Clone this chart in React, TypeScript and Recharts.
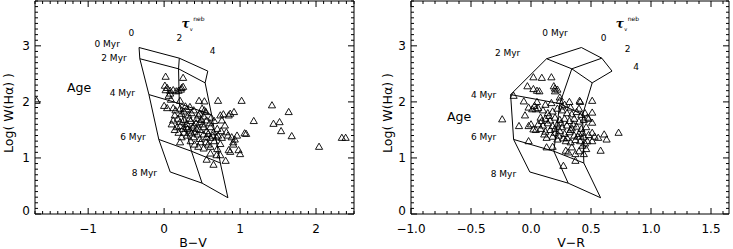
import { Scatter, ScatterChart, XAxis, YAxis } from "recharts";

const FONT = "'DejaVu Sans', sans-serif";

// model grid, rows = age (0, 2, 4, 6, 8 Myr), columns = tau_V^neb (0, 2, 4)
const ageNames = ["0 Myr", "2 Myr", "4 Myr", "6 Myr", "8 Myr"];
const tauNames = ["0", "2", "4"];
const modelLogW = [
  [2.97, 2.78, 2.55],
  [2.77, 2.59, 2.34],
  [2.13, 1.97, 1.77],
  [1.33, 1.12, 0.91],
  [0.75, 0.55, 0.29],
];
const modelBV = [
  [-0.33, 0.2, 0.575],
  [-0.32, 0.19, 0.54],
  [-0.2, 0.2, 0.625],
  [-0.07, 0.36, 0.74],
  [0.08, 0.5, 0.84],
];
const modelVR = [
  [0.42, 0.59, 0.675],
  [0.13, 0.34, 0.51],
  [-0.17, 0.24, 0.43],
  [-0.145, 0.19, 0.44],
  [-0.01, 0.31, 0.58],
];

// observed clusters: [colour, log W(Ha)]
const bvPoints = [
  [-1.68, 2.02], [1.02, 2.02], [1.42, 1.94], [1.64, 1.82], [1.18, 1.66], [1.44, 1.61], [1.52, 1.64],
  [1.54, 1.48], [1.68, 1.39], [2.04, 1.2], [2.34, 1.36], [2.39, 1.36], [1.06, 1.44], [1.08, 1.43],
  [0.02, 2.45], [0.25, 2.43], [0.01, 2.29], [0.04, 2.25], [0.02, 2.21], [0.08, 2.2], [0.12, 2.21],
  [0.16, 2.19], [0.19, 2.2], [0.23, 2.25], [0.25, 2.27], [0.22, 2.22], [0.06, 2.11], [0.09, 2.04],
  [0.08, 2.15], [0.21, 2.02], [0.46, 2.02], [0.53, 2.01], [0.71, 2.02], [0.04, 1.89], [0.0, 1.93],
  [0.12, 1.89], [0.21, 1.88], [0.28, 1.92], [0.34, 1.91], [0.3, 1.87], [0.39, 1.85], [0.53, 1.85],
  [0.47, 1.79], [0.5, 1.88], [0.55, 1.82], [0.14, 1.76], [0.23, 1.79], [0.32, 1.76], [0.43, 1.7],
  [0.26, 1.83], [0.36, 1.8], [0.45, 1.76], [0.52, 1.74], [0.74, 1.76], [0.76, 1.67], [0.85, 1.76],
  [0.87, 1.79], [0.8, 1.58], [0.82, 1.46], [0.71, 1.4], [0.78, 1.78], [0.92, 1.82], [0.12, 1.67],
  [0.21, 1.64], [0.3, 1.61], [0.39, 1.58], [0.47, 1.64], [0.56, 1.67], [0.1, 1.6], [0.18, 1.7],
  [0.26, 1.68], [0.35, 1.66], [0.42, 1.62], [0.51, 1.6], [0.6, 1.62], [0.66, 1.66], [0.17, 1.55],
  [0.25, 1.52], [0.34, 1.49], [0.43, 1.52], [0.52, 1.55], [0.61, 1.55], [0.65, 1.46], [0.14, 1.5],
  [0.21, 1.57], [0.29, 1.55], [0.38, 1.54], [0.47, 1.5], [0.56, 1.48], [0.7, 1.52], [0.75, 1.48],
  [0.23, 1.37], [0.3, 1.4], [0.21, 1.28], [0.39, 1.37], [0.47, 1.34], [0.56, 1.37], [0.61, 1.36],
  [0.69, 1.37], [0.89, 1.37], [0.96, 1.4], [0.91, 1.28], [0.93, 1.33], [0.36, 1.44], [0.44, 1.42],
  [0.52, 1.42], [0.58, 1.43], [0.64, 1.4], [0.26, 1.45], [0.84, 1.4], [0.76, 1.36], [0.45, 1.2],
  [0.52, 1.17], [0.61, 1.2], [0.74, 1.25], [0.85, 1.14], [0.87, 1.11], [0.98, 1.14], [1.0, 1.07],
  [0.61, 1.08], [0.69, 1.05], [0.74, 1.05], [0.56, 0.97], [0.65, 0.88], [0.81, 0.95], [0.4, 1.24],
  [0.55, 1.28], [0.66, 1.3], [0.91, 1.24], [0.7, 1.16], [0.58, 1.24], [0.48, 1.28], [0.35, 1.3],
  [0.15, 1.85], [0.33, 1.7], [0.4, 1.46], [0.49, 1.68], [0.62, 1.72], [0.19, 1.45], [0.31, 1.52],
];

const vrPoints = [
  [0.02, 2.44], [0.09, 2.43], [0.17, 2.44], [-0.03, 2.28], [0.02, 2.23], [0.05, 2.2], [0.07, 2.19],
  [0.19, 2.28], [0.2, 2.24], [0.2, 2.19], [0.22, 2.22], [-0.145, 2.11], [-0.06, 2.01], [0.05, 2.0],
  [0.24, 2.08], [0.24, 2.02], [0.41, 2.0], [0.405, 2.02], [0.51, 2.02], [0.51, 1.81], [-0.02, 1.9],
  [0.01, 1.87], [0.04, 1.87], [0.06, 1.89], [0.32, 2.0], [-0.24, 1.69], [-0.1, 1.57], [-0.02, 1.57],
  [0.02, 1.51], [0.09, 1.66], [0.0, 1.6], [-0.05, 1.76], [0.03, 1.93], [0.12, 1.95], [0.17, 1.98],
  [0.28, 1.95], [0.33, 1.9], [0.26, 1.92], [0.1, 1.85], [0.14, 1.8], [0.18, 1.83], [0.22, 1.88],
  [0.26, 1.85], [0.3, 1.8], [0.34, 1.78], [0.38, 1.82], [0.42, 1.77], [0.45, 1.8], [0.48, 1.7],
  [0.08, 1.72], [0.12, 1.7], [0.16, 1.67], [0.2, 1.72], [0.24, 1.68], [0.28, 1.7], [0.32, 1.66],
  [0.36, 1.7], [0.4, 1.65], [0.44, 1.68], [0.51, 1.63], [0.06, 1.6], [0.1, 1.58], [0.14, 1.62],
  [0.18, 1.57], [0.22, 1.6], [0.26, 1.55], [0.3, 1.58], [0.34, 1.53], [0.38, 1.56], [0.42, 1.52],
  [0.46, 1.55], [0.51, 1.45], [0.04, 1.5], [0.08, 1.52], [0.12, 1.47], [0.16, 1.5], [0.2, 1.45],
  [0.24, 1.48], [0.28, 1.43], [0.32, 1.46], [0.36, 1.4], [0.4, 1.43], [0.44, 1.38], [0.48, 1.41],
  [0.13, 1.36], [0.18, 1.38], [0.22, 1.33], [0.27, 1.35], [0.29, 1.3], [0.33, 1.28], [0.37, 1.32],
  [0.41, 1.3], [0.45, 1.26], [0.47, 1.3], [0.43, 1.22], [0.13, 1.19], [0.18, 1.2], [0.34, 1.19],
  [0.29, 1.13], [0.31, 1.1], [0.37, 1.07], [0.4, 1.12], [0.44, 1.07], [0.46, 1.16], [0.37, 0.95],
  [0.27, 0.86], [0.56, 1.36], [0.61, 1.42], [0.63, 1.33], [0.73, 1.45], [0.58, 1.13], [0.51, 1.3],
  [0.53, 1.38], [-0.02, 1.3], [0.15, 1.75], [0.25, 1.62], [0.35, 1.6], [0.43, 1.45], [0.2, 1.52],
  [0.3, 1.36], [0.39, 1.38], [0.11, 1.42], [0.23, 1.4], [0.47, 1.72], [0.4, 1.88], [0.33, 1.5],
];

// annotation anchors in data units
const bvAgeAnchors = [[-0.75, 3.04], [-0.66, 2.79], [-0.55, 2.15], [-0.41, 1.37], [-0.26, 0.73]];
const bvTauAnchors = [[-0.43, 3.23], [0.2, 3.14], [0.64, 2.9]];
const bvTitles = { age: [-1.12, 2.26], tau: [0.28, 3.38] };
const vrAgeAnchors = [[0.2, 3.23], [-0.195, 2.88], [-0.395, 2.13], [-0.395, 1.38], [-0.23, 0.72]];
const vrTauAnchors = [[0.605, 3.14], [0.805, 2.94], [0.875, 2.63]];
const vrTitles = { age: [-0.6, 1.74], tau: [0.74, 3.38] };

function minorTicks(lo: number, hi: number, step: number) {
  const out: number[] = [];
  for (let i = Math.ceil(lo / step - 1e-9); i * step <= hi + 1e-9; i++) out.push(+(i * step).toFixed(4));
  return out;
}

const isOn = (v: number, step: number) => Math.abs(v / step - Math.round(v / step)) < 1e-6;

const minus = (s: string) => s.replace("-", "\u2212");

function makeTick(side: string, majorStep: number, fmt?: (v: number) => string) {
  return (props: any) => {
    const { x, y, payload } = props;
    const v = payload.value;
    const major = isOn(v, majorStep);
    const len = major ? 6 : 3;
    const txt = { fontFamily: FONT, fontSize: 12, fill: "#000" };
    if (side === "bottom")
      return (
        <g>
          <line x1={x} x2={x} y1={y} y2={y - len} stroke="#000" />
          {major && fmt && (
            <text x={x} y={y + 19} textAnchor="middle" {...txt}>{fmt(v)}</text>
          )}
        </g>
      );
    if (side === "top") return <line x1={x} x2={x} y1={y} y2={y + len} stroke="#000" />;
    if (side === "left")
      return (
        <g>
          <line x1={x} x2={x + len} y1={y} y2={y} stroke="#000" />
          {major && fmt && (
            <text x={x - 5} y={y + 4.5 - (v === 0 ? 4 : 0)} textAnchor="end" {...txt}>{fmt(v)}</text>
          )}
        </g>
      );
    return <line x1={x} x2={x - len} y1={y} y2={y} stroke="#000" />;
  };
}

const Triangle = (p: any) => (
  <path
    d={`M${p.cx},${p.cy - 3.6} L${p.cx + 3.6},${p.cy + 2.6} L${p.cx - 3.6},${p.cy + 2.6} Z`}
    fill="none"
    stroke="#000"
    strokeWidth={0.9}
  />
);

const Nothing = () => <g />;

const Note = (p: any) => {
  const { cx, cy, payload } = p;
  if (payload.kind === "tau")
    return (
      <text x={cx - 4} y={cy + 3} fill="#000" fontFamily={FONT}>
        <tspan fontSize={12} fontStyle="italic" fontWeight="bold" fontFamily="'DejaVu Serif', serif">τ</tspan>
        <tspan fontSize={5} dx={0.3} dy={3}>v</tspan>
        <tspan fontSize={6} dx={0.5} dy={-10}>neb</tspan>
      </text>
    );
  return (
    <text
      x={cx}
      y={cy}
      textAnchor="middle"
      dominantBaseline="central"
      fontSize={payload.kind === "age" ? 12.5 : 9}
      fontFamily={FONT}
      fill="#000"
    >
      {payload.text}
    </text>
  );
};

function gridLines(modelX: number[][]) {
  const rows = modelX.map((row, i) => row.map((x, j) => ({ x, y: modelLogW[i][j] })));
  const cols = tauNames.map((_, j) => modelX.map((row, i) => ({ x: row[j], y: modelLogW[i][j] })));
  return [...rows, ...cols];
}

function notes(ageAnchors: number[][], tauAnchors: number[][], titles: { age: number[]; tau: number[] }) {
  return [
    ...ageAnchors.map(([x, y], i) => ({ x, y, text: ageNames[i], kind: "myr" })),
    ...tauAnchors.map(([x, y], i) => ({ x, y, text: tauNames[i], kind: "num" })),
    { x: titles.age[0], y: titles.age[1], text: "Age", kind: "age" },
    { x: titles.tau[0], y: titles.tau[1], text: "", kind: "tau" },
  ];
}

type PanelProps = {
  left: number;
  width: number;
  margin: { top: number; right: number; bottom: number; left: number };
  xDomain: [number, number];
  xMajorStep: number;
  xFmt: (v: number) => string;
  points: number[][];
  modelX: number[][];
  annotations: any[];
};

function Panel(p: PanelProps) {
  const xTicks = minorTicks(p.xDomain[0], p.xDomain[1], 0.1);
  const yTicks = minorTicks(0, 3.8, 0.1);
  const pts = p.points.map(([x, y]) => ({ x, y }));
  const axisLine = { stroke: "#000", strokeWidth: 1 };
  const common = { tickSize: 0, tickMargin: 0, tickLine: false, axisLine, interval: 0 as const, allowDataOverflow: true };
  return (
    <ScatterChart width={p.width} height={249} margin={p.margin} style={{ position: "absolute", left: p.left, top: 0 }}>
      <XAxis xAxisId="b" type="number" dataKey="x" orientation="bottom" height={1} domain={p.xDomain} ticks={xTicks} tick={makeTick("bottom", p.xMajorStep, p.xFmt)} {...common} />
      <XAxis xAxisId="t" type="number" dataKey="x" orientation="top" height={1} domain={p.xDomain} ticks={xTicks} tick={makeTick("top", p.xMajorStep)} {...common} />
      <YAxis yAxisId="l" type="number" dataKey="y" orientation="left" width={1} domain={[0, 3.8]} ticks={yTicks} tick={makeTick("left", 1, (v) => String(v))} {...common} />
      <YAxis yAxisId="r" type="number" dataKey="y" orientation="right" width={1} domain={[0, 3.8]} ticks={yTicks} tick={makeTick("right", 1)} {...common} />
      {gridLines(p.modelX).map((seg, i) => (
        <Scatter key={`g${i}`} xAxisId="t" yAxisId="r" data={seg} line={{ stroke: "#000", strokeWidth: 1 }} shape={Nothing} isAnimationActive={false} />
      ))}
      <Scatter xAxisId="t" yAxisId="r" data={p.annotations} shape={Note} isAnimationActive={false} />
      <Scatter xAxisId="b" yAxisId="l" data={pts} shape={Triangle} isAnimationActive={false} />
    </ScatterChart>
  );
}

export default function App() {
  const title = { fontFamily: FONT, fontSize: 12.5, fill: "#000" };
  return (
    <div style={{ position: "absolute", left: 0, top: 0, width: 733, height: 249, background: "#fff" }}>
      <Panel
        left={0}
        width={370}
        margin={{ top: 0, right: 15, bottom: 34, left: 34 }}
        xDomain={[-1.7, 2.5]}
        xMajorStep={1}
        xFmt={(v) => minus(String(v))}
        points={bvPoints}
        modelX={modelBV}
        annotations={notes(bvAgeAnchors, bvTauAnchors, bvTitles)}
      />
      <Panel
        left={370}
        width={363}
        margin={{ top: 0, right: 3, bottom: 34, left: 40 }}
        xDomain={[-1, 1.65]}
        xMajorStep={0.5}
        xFmt={(v) => minus(v.toFixed(1))}
        points={vrPoints}
        modelX={modelVR}
        annotations={notes(vrAgeAnchors, vrTauAnchors, vrTitles)}
      />
      <svg width={733} height={249} style={{ position: "absolute", left: 0, top: 0, pointerEvents: "none" }}>
        <text x={8} y={113} transform="rotate(-90 8 113)" textAnchor="middle" dominantBaseline="central" {...title}>Log( W(Hα) )</text>
        <text x={387} y={113} transform="rotate(-90 387 113)" textAnchor="middle" dominantBaseline="central" {...title}>Log( W(Hα) )</text>
        <text x={193} y={247} textAnchor="middle" {...title}>B−V</text>
        <text x={571} y={247} textAnchor="middle" {...title}>V−R</text>
      </svg>
    </div>
  );
}
